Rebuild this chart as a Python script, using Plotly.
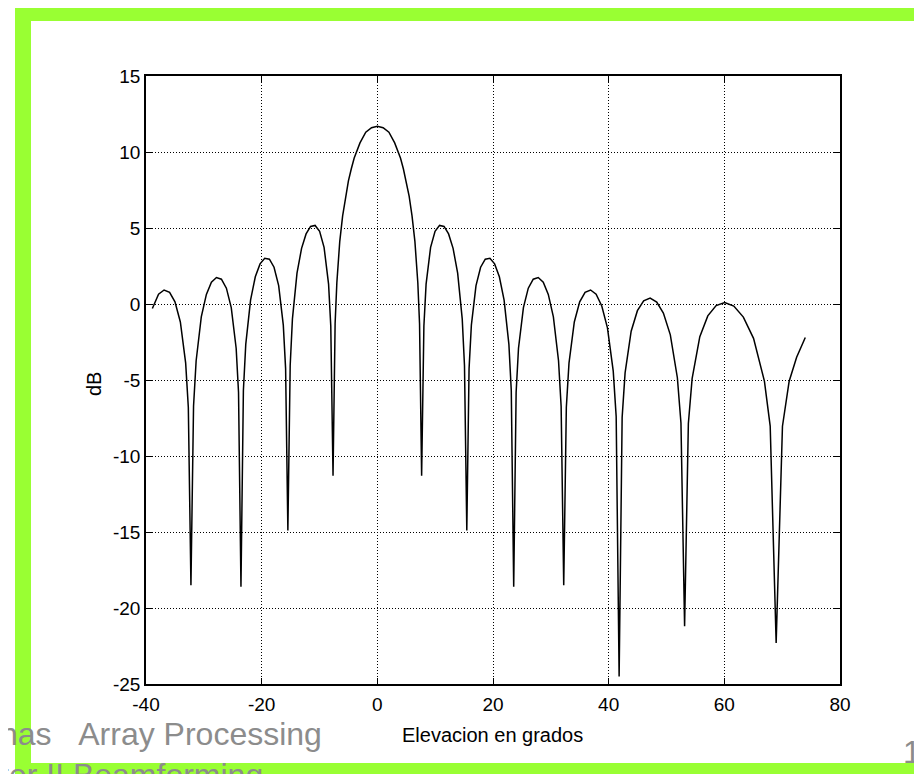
import plotly.graph_objects as go

# ---- data ----
elevation_deg = [
    -38.9, -37.83, -36.87, -35.92, -34.99, -34.06, -33.14, -32.68, -32.23,
    -31.78, -31.33, -30.44, -29.56, -28.69, -27.82, -26.96, -26.10, -25.26, -24.41, -24.0, -23.58,
    -23.16, -22.75, -21.92, -21.10, -20.28, -19.47, -18.66, -17.86, -17.06, -16.26, -15.86, -15.47,
    -15.07, -14.68, -13.89, -13.10, -12.32, -11.54, -10.76, -9.98, -9.21, -8.43, -8.05, -7.66,
    -7.3, -7.0, -6.5, -6.0, -5.5, -5.0, -4.5, -4.0, -3.0, -2.0, -1.0, 0.0,
    1.0, 2.0, 3.0, 4.0, 4.5, 5.0, 5.5, 6.0, 6.5, 7.0, 7.3, 7.66,
    8.05, 8.43, 9.21, 9.98, 10.76, 11.54, 12.32, 13.10, 13.89, 14.68, 15.07, 15.47,
    15.86, 16.26, 17.06, 17.86, 18.66, 19.47, 20.28, 21.10, 21.92, 22.75, 23.16, 23.58,
    24.0, 24.41, 25.26, 26.10, 26.96, 27.82, 28.69, 29.56, 30.44, 31.33, 31.78, 32.23,
    32.68, 33.14, 34.06, 34.99, 35.92, 36.87, 37.83, 38.81, 39.79, 40.79, 41.30, 41.81,
    42.33, 42.84, 43.89, 44.97, 46.05, 47.17, 48.31, 49.46, 50.66, 51.88, 52.50, 53.13,
    53.78, 54.43, 55.76, 57.14, 58.58, 60.07, 61.64, 63.29, 65.05, 66.93, 67.93, 68.96,
    70.05, 71.21, 72.5, 74.0,
]
gain_db = [
    -0.3, 0.64, 0.92, 0.77, 0.14, -1.18, -3.89, -6.81, -18.5,
    -6.73, -3.73, -0.85, 0.63, 1.43, 1.74, 1.63, 1.04, -0.24, -2.91, -5.81, -18.6,
    -5.69, -2.66, 0.26, 1.79, 2.64, 3.01, 2.95, 2.42, 1.21, -1.39, -4.25, -14.9,
    -4.05, -0.98, 2.03, 3.66, 4.61, 5.10, 5.17, 4.78, 3.73, 1.31, -1.45, -11.3,
    -1.3, 1.4, 4.1, 5.8, 7.1, 8.1, 8.9, 9.6, 10.6, 11.3, 11.6, 11.7,
    11.6, 11.3, 10.6, 9.6, 8.9, 8.1, 7.1, 5.8, 4.1, 1.4, -1.3, -11.3,
    -1.45, 1.31, 3.73, 4.78, 5.17, 5.10, 4.61, 3.66, 2.03, -0.98, -4.05, -14.9,
    -4.25, -1.39, 1.21, 2.42, 2.95, 3.01, 2.64, 1.79, 0.26, -2.66, -5.69, -18.6,
    -5.81, -2.91, -0.24, 1.04, 1.63, 1.74, 1.43, 0.63, -0.85, -3.73, -6.73, -18.5,
    -6.81, -3.89, -1.18, 0.14, 0.77, 0.92, 0.64, -0.13, -1.57, -4.42, -7.41, -24.5,
    -7.46, -4.53, -1.79, -0.44, 0.21, 0.39, 0.13, -0.60, -2.03, -4.85, -7.83, -21.2,
    -7.86, -4.91, -2.15, -0.78, -0.10, 0.10, -0.14, -0.86, -2.26, -5.07, -8.03, -22.3,
    -8.04, -5.08, -3.5, -2.2,
]
x_ticks = [-40, -20, 0, 20, 40, 60, 80]
x_tick_labels = ["-40", "-20", "0", "20", "40", "60", "80"]
y_ticks = [-25, -20, -15, -10, -5, 0, 5, 10, 15]
y_tick_labels = ["-25", "-20", "-15", "-10", "-5", "0", "5", "10", "15"]
x_title = "Elevacion en grados"
y_title = "dB"
footer_line1 = "nas\u00a0\u00a0\u00a0Array Processing"
footer_line2 = "ter II Beamforming"
page_number = "1"

# ---- layout geometry (screen pixels; page body has an 8px margin) ----
OFF = 8
SW, SH = 922, 774
W, H = SW - OFF, SH - OFF
L, R, T, B = 146, 840, 76, 684          # plot area on screen
PW, PH = R - L, B - T


def px(xs):
    return (xs - L) / PW


def py(ys):
    return (B - ys) / PH


FONT = "Arial, Liberation Sans, sans-serif"
GREEN = "#99ff33"

fig = go.Figure()
fig.add_trace(go.Scatter(
    x=elevation_deg, y=gain_db, mode="lines",
    line=dict(color="black", width=1.5), showlegend=False, hoverinfo="skip",
))

axis_common = dict(
    ticks="inside", ticklen=6, tickcolor="black", tickwidth=1,
    showline=True, linecolor="black", linewidth=1.5, mirror="allticks",
    showgrid=True, gridcolor="black", gridwidth=1, griddash="1px,2px",
    zeroline=False, tickfont=dict(family=FONT, size=19, color="black"),
)

fig.update_xaxes(range=[-40, 80], tickmode="array", tickvals=x_ticks,
                 ticktext=x_tick_labels, ticklabelstandoff=2, **axis_common)
fig.update_yaxes(range=[-25, 15], tickmode="array", tickvals=y_ticks,
                 ticktext=y_tick_labels, ticklabelstandoff=0, **axis_common)

shapes = []
for (x0, y0, x1, y1) in [(15, 5, 922, 21), (15, 5, 31, 774), (920, 5, 922, 774), (15, 763, 922, 774)]:
    shapes.append(dict(type="rect", xref="paper", yref="paper",
                       x0=px(x0), x1=px(x1), y0=py(y1), y1=py(y0),
                       fillcolor=GREEN, line=dict(width=0), layer="below"))

annotations = [
    dict(text=x_title, xref="paper", yref="paper", x=px(492), y=py(735),
         xanchor="center", yanchor="middle", showarrow=False,
         font=dict(family=FONT, size=20, color="black")),
    dict(text=y_title, xref="paper", yref="paper", x=px(94), y=py(384),
         xanchor="center", yanchor="middle", showarrow=False, textangle=-90,
         font=dict(family=FONT, size=20, color="black")),
    dict(text=footer_line1, xref="paper", yref="paper", x=px(-2), y=py(734),
         xanchor="left", yanchor="middle", showarrow=False,
         font=dict(family=FONT, size=32, color="#8c8c8c")),
    dict(text=footer_line2, xref="paper", yref="paper", x=px(-2), y=py(775),
         xanchor="left", yanchor="middle", showarrow=False,
         font=dict(family=FONT, size=32, color="#8c8c8c")),
    dict(text=page_number, xref="paper", yref="paper", x=px(901), y=py(752),
         xanchor="left", yanchor="middle", showarrow=False,
         font=dict(family=FONT, size=32, color="#8c8c8c")),
]

fig.update_layout(
    width=W, height=H, autosize=False,
    margin=dict(l=L - OFF, r=SW - R, t=T - OFF, b=SH - B, pad=0),
    paper_bgcolor="white", plot_bgcolor="white",
    shapes=shapes, annotations=annotations, showlegend=False,
)

fig.write_html("out.html")
